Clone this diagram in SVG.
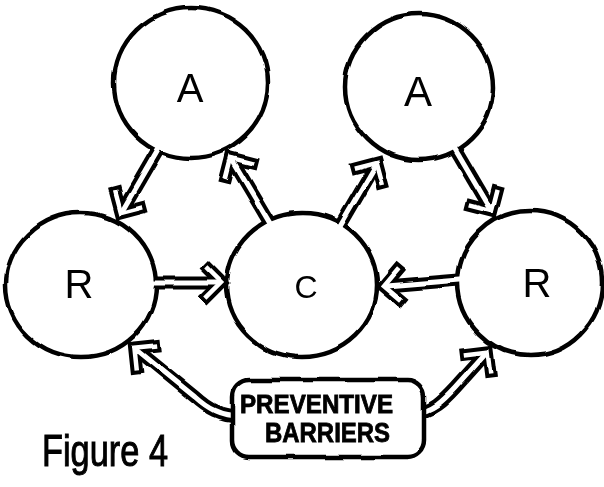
<svg xmlns="http://www.w3.org/2000/svg" xmlns:xlink="http://www.w3.org/1999/xlink" width="604" height="487" viewBox="0 0 604 487">
  <defs>
    <style>
      .node { fill: #fff; stroke: #000; stroke-width: 4.5; }
      .sb { fill: none; stroke: #000; stroke-width: 13; stroke-linecap: butt; stroke-linejoin: round; }
      .sw { fill: none; stroke: #fff; stroke-width: 5; stroke-linecap: butt; stroke-linejoin: round; }
      .hb { fill: none; stroke: #000; stroke-width: 12.5; stroke-linecap: butt; stroke-linejoin: miter; }
      .hw { fill: none; stroke: #fff; stroke-width: 4.5; stroke-linecap: butt; stroke-linejoin: miter; }
      .lbl { font-family: "Liberation Sans", Arial, sans-serif; fill: #000; text-anchor: middle; }
      .cap { font-family: "Liberation Sans", Arial, sans-serif; font-weight: bold; fill: #000; stroke: #000; stroke-width: 0.8; }
    </style>
    <!-- wobbly pen line -->
    <filter id="rough" x="-10%" y="-10%" width="120%" height="120%">
      <feTurbulence type="fractalNoise" baseFrequency="0.025" numOctaves="2" seed="7" result="n"/>
      <feDisplacementMap in="SourceGraphic" in2="n" scale="5" xChannelSelector="R" yChannelSelector="G"/>
    </filter>
    <!-- open chevron head, vertex at origin pointing +x -->
    <path id="headB" class="hb" d="M-19,-19 L0,0 L-19,19"/>
    <path id="headW" class="hw" d="M-16.2,-16.2 L0,0 L-16.2,16.2"/>
  </defs>

  <rect width="604" height="487" fill="#fff"/>

  <g filter="url(#rough)">
    <!-- nodes -->
    <g id="node-a-left"><ellipse class="node" cx="191" cy="83" rx="77" ry="75"/></g>
    <g id="node-a-right"><ellipse class="node" cx="419" cy="87" rx="74" ry="73"/></g>
    <g id="node-r-left"><ellipse class="node" cx="81" cy="285" rx="75" ry="72"/></g>
    <g id="node-c"><ellipse class="node" cx="302" cy="285" rx="75" ry="72"/></g>
    <g id="node-r-right"><ellipse class="node" cx="530" cy="283" rx="72" ry="72"/></g>

    <!-- connectors: hollow double-line arrows -->
    <g id="connectors">
      <g id="arrow-aleft-rleft">
        <path class="sb" d="M157,151 L121,213.1"/>
        <use xlink:href="#headB" transform="translate(121,213.1) rotate(120.1)"/>
        <path class="sw" d="M159,147.5 L121,213.1"/>
        <use xlink:href="#headW" transform="translate(121,213.1) rotate(120.1)"/>
      </g>
      <g id="arrow-c-aleft">
        <path class="sb" d="M268,220 L231.1,157.9"/>
        <use xlink:href="#headB" transform="translate(231.1,157.9) rotate(-120.7)"/>
        <path class="sw" d="M270,223.4 L231.1,157.9"/>
        <use xlink:href="#headW" transform="translate(231.1,157.9) rotate(-120.7)"/>
      </g>
      <g id="arrow-c-aright">
        <path class="sb" d="M342,223 L377,162.9"/>
        <use xlink:href="#headB" transform="translate(377,162.9) rotate(-59.8)"/>
        <path class="sw" d="M340,226.5 L377,162.9"/>
        <use xlink:href="#headW" transform="translate(377,162.9) rotate(-59.8)"/>
      </g>
      <g id="arrow-aright-rright">
        <path class="sb" d="M456,150 L491.9,211.1"/>
        <use xlink:href="#headB" transform="translate(491.9,211.1) rotate(59.5)"/>
        <path class="sw" d="M454,146.6 L491.9,211.1"/>
        <use xlink:href="#headW" transform="translate(491.9,211.1) rotate(59.5)"/>
      </g>
      <g id="arrow-rleft-c">
        <path class="sb" d="M155,283 L222,283"/>
        <use xlink:href="#headB" transform="translate(222,283)"/>
        <path class="sw" d="M151,283 L222,283"/>
        <use xlink:href="#headW" transform="translate(222,283)"/>
      </g>
      <g id="arrow-rright-c">
        <path class="sb" d="M459,280 L384,286.3"/>
        <use xlink:href="#headB" transform="translate(384,286.3) rotate(175.2)"/>
        <path class="sw" d="M463,279.7 L384,286.3"/>
        <use xlink:href="#headW" transform="translate(384,286.3) rotate(175.2)"/>
      </g>
      <g id="arrow-barriers-rleft">
        <path class="sb" d="M240,416 C220,416 207,408 195,397 L134.4,347.8"/>
        <use xlink:href="#headB" transform="translate(134.4,347.8) rotate(-141)"/>
        <path class="sw" d="M240,416 C220,416 207,408 195,397 L134.4,347.8"/>
        <use xlink:href="#headW" transform="translate(134.4,347.8) rotate(-141)"/>
      </g>
      <g id="arrow-barriers-rright">
        <path class="sb" d="M415,413 C432,412 443,401 455,388 L487.5,351.8"/>
        <use xlink:href="#headB" transform="translate(487.5,351.8) rotate(-52)"/>
        <path class="sw" d="M415,413 C432,412 443,401 455,388 L487.5,351.8"/>
        <use xlink:href="#headW" transform="translate(487.5,351.8) rotate(-52)"/>
      </g>
    </g>

    <!-- barrier box -->
    <g id="node-barriers">
      <rect class="node" x="232" y="380" width="192" height="77" rx="17" ry="17"/>
    </g>
  </g>

  <!-- labels -->
  <text class="lbl" x="190" y="102" font-size="40">A</text>
  <text class="lbl" x="418" y="106" font-size="42">A</text>
  <text class="lbl" x="79" y="298" font-size="40">R</text>
  <text class="lbl" x="306" y="298" font-size="32">C</text>
  <text class="lbl" x="537" y="297" font-size="40">R</text>
  <text class="cap" x="240" y="413" font-size="25" textLength="153" lengthAdjust="spacingAndGlyphs">PREVENTIVE</text>
  <text class="cap" x="265" y="442" font-size="27" textLength="125" lengthAdjust="spacingAndGlyphs">BARRIERS</text>
  <text x="42" y="466" font-family="Liberation Sans, Arial, sans-serif" font-size="44" stroke="#000" stroke-width="1" textLength="126" lengthAdjust="spacingAndGlyphs">Figure 4</text>
</svg>
